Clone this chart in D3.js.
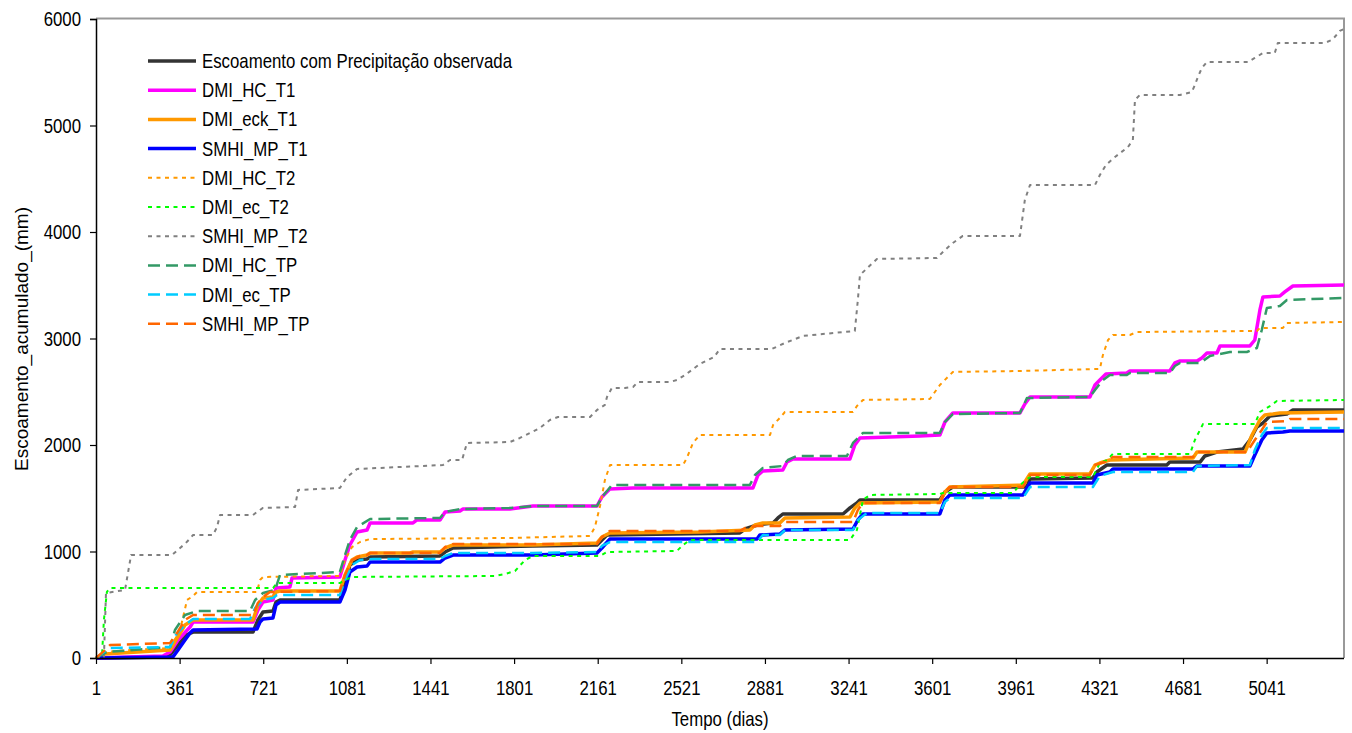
<!DOCTYPE html>
<html>
<head>
<meta charset="utf-8">
<title>Escoamento acumulado</title>
<script src="https://cdn.jsdelivr.net/npm/d3@7"></script>
<style>
body { margin:0; background:#fff; }
text { font-family:"Liberation Sans",Arial,sans-serif; font-size:20.5px; fill:#000; }
</style>
</head>
<body>
<svg id="chart" width="1352" height="733"></svg>
<script>
// series names (legend order = drawing order)
var names = ['Escoamento com Precipitação observada','DMI_HC_T1','DMI_eck_T1','SMHI_MP_T1',
  'DMI_HC_T2','DMI_ec_T2','SMHI_MP_T2','DMI_HC_TP','DMI_ec_TP','SMHI_MP_TP'];

// [dia, mm acumulado]
var obs = [[1,0],[298,9],[320,28],[354,122],[388,216],[419,244],[677,244],[698,357],[720,432],[763,441],[776,526],[793,545],[1051,545],[1073,685],[1094,873],[1125,920],[1168,930],[1181,948],[1482,958],[1504,995],[1538,1033],[1882,1052],[2158,1061],[2179,1108],[2201,1155],[2773,1174],[2795,1211],[2847,1249],[2916,1268],[2937,1315],[2958,1352],[3217,1352],[3247,1409],[3277,1455],[3290,1484],[3634,1484],[3656,1559],[3690,1606],[4009,1606],[4022,1681],[4293,1690],[4310,1747],[4353,1812],[4611,1812],[4624,1840],[4754,1840],[4775,1897],[4827,1934],[4939,1962],[4969,2047],[4999,2169],[5025,2207],[5055,2272],[5128,2291],[5154,2329],[5374,2329]];
var dmiHcT1 = [[1,0],[289,19],[320,56],[354,169],[406,291],[419,338],[677,338],[698,451],[720,526],[763,545],[776,657],[836,667],[845,751],[1051,761],[1073,920],[1094,1061],[1125,1183],[1168,1202],[1181,1268],[1366,1268],[1383,1296],[1482,1296],[1504,1371],[1568,1380],[1581,1399],[1783,1399],[1882,1427],[2158,1427],[2179,1512],[2213,1587],[2313,1596],[2829,1596],[2851,1718],[2872,1756],[2958,1765],[2976,1840],[3002,1869],[3247,1869],[3268,2000],[3290,2066],[3548,2085],[3634,2094],[3656,2216],[3690,2301],[3979,2301],[4000,2385],[4022,2451],[4280,2451],[4302,2563],[4323,2610],[4349,2667],[4439,2676],[4452,2695],[4624,2695],[4646,2770],[4668,2789],[4741,2789],[4762,2817],[4784,2864],[4827,2864],[4840,2930],[4969,2930],[4990,2986],[5012,3268],[5025,3390],[5098,3399],[5119,3437],[5154,3493],[5374,3502]];
var dmiEckT1 = [[1,0],[40,38],[320,75],[345,169],[384,310],[419,357],[677,357],[698,498],[720,563],[763,573],[776,620],[793,629],[1051,629],[1073,779],[1103,920],[1125,948],[1168,967],[1181,986],[1353,986],[1366,995],[1482,995],[1504,1033],[1538,1061],[1882,1061],[2158,1080],[2179,1136],[2213,1174],[2601,1183],[2816,1202],[2838,1249],[2872,1268],[2945,1268],[2967,1315],[3247,1324],[3268,1409],[3290,1455],[3634,1465],[3656,1559],[3677,1606],[3992,1624],[4022,1728],[4280,1728],[4302,1812],[4323,1831],[4366,1859],[4724,1878],[4741,1934],[4948,1934],[4978,2094],[5012,2235],[5033,2282],[5068,2291],[5098,2301],[5374,2310]];
var smhiMpT1 = [[1,0],[332,9],[354,75],[384,169],[406,235],[419,263],[694,272],[707,338],[720,366],[763,376],[776,498],[793,526],[1051,526],[1073,639],[1094,808],[1125,855],[1168,864],[1181,901],[1482,901],[1504,939],[1538,967],[1882,967],[2158,986],[2179,1033],[2213,1117],[2847,1117],[2859,1155],[2945,1164],[2967,1202],[3260,1211],[3281,1296],[3303,1352],[3634,1352],[3656,1484],[3677,1531],[3992,1531],[4022,1643],[4293,1643],[4310,1718],[4366,1747],[4379,1775],[4724,1775],[4741,1803],[4969,1803],[4990,1906],[5020,2047],[5042,2113],[5111,2122],[5141,2132],[5374,2132]];
var dmiHcT2 = [[1,0],[40,56],[147,75],[320,94],[363,263],[393,545],[419,582],[436,620],[694,620],[707,732],[720,761],[1051,770],[1073,920],[1103,1042],[1138,1089],[1181,1117],[1783,1127],[2128,1146],[2149,1230],[2171,1427],[2192,1671],[2214,1812],[2528,1812],[2545,1878],[2571,2019],[2601,2094],[2903,2094],[2916,2188],[2945,2254],[2967,2310],[3260,2310],[3277,2366],[3303,2423],[3591,2432],[3634,2563],[3690,2686],[3979,2695],[4323,2714],[4336,2845],[4358,2986],[4379,3033],[4452,3033],[4482,3061],[4999,3071],[5012,3099],[5111,3099],[5128,3146],[5374,3155]];
var dmiEcT2 = [[1,0],[27,28],[35,357],[48,620],[61,657],[763,657],[780,704],[1051,704],[1073,732],[1103,761],[1719,770],[1762,789],[1805,817],[1848,920],[1882,958],[2171,958],[2201,995],[2502,1005],[2528,1061],[2558,1108],[3247,1108],[3277,1202],[3303,1484],[3333,1531],[3634,1540],[3647,1549],[3948,1549],[3979,1624],[4022,1700],[4293,1700],[4323,1831],[4353,1859],[4379,1916],[4711,1916],[4732,2047],[4767,2197],[4990,2197],[5012,2310],[5055,2366],[5085,2413],[5374,2423]];
var smhiMpT2 = [[1,0],[35,0],[44,610],[126,639],[152,967],[328,967],[363,1033],[388,1080],[419,1155],[505,1155],[522,1230],[535,1343],[677,1343],[694,1371],[720,1409],[858,1418],[871,1578],[1051,1596],[1082,1700],[1125,1775],[1495,1812],[1525,1859],[1577,1859],[1598,2019],[1783,2028],[1826,2066],[1878,2122],[1912,2160],[1955,2235],[1990,2263],[2128,2263],[2158,2329],[2192,2376],[2201,2451],[2222,2535],[2278,2535],[2313,2545],[2334,2592],[2472,2592],[2502,2610],[2537,2657],[2601,2761],[2662,2826],[2687,2902],[2911,2902],[2967,2958],[3045,3024],[3268,3071],[3281,3362],[3290,3596],[3363,3747],[3621,3756],[3656,3831],[3690,3897],[3733,3963],[3979,3963],[4000,4301],[4022,4441],[4302,4441],[4323,4535],[4349,4629],[4388,4704],[4444,4798],[4465,4864],[4474,5240],[4495,5287],[4668,5287],[4719,5315],[4732,5380],[4745,5456],[4762,5540],[4784,5596],[4960,5596],[4990,5634],[5025,5681],[5076,5681],[5089,5775],[5291,5775],[5321,5803],[5334,5831],[5356,5888],[5374,5906]];
var dmiHcTP = [[1,0],[48,56],[320,103],[341,263],[384,404],[436,441],[664,441],[686,545],[720,610],[772,639],[793,779],[1051,808],[1073,967],[1094,1108],[1125,1230],[1181,1305],[1482,1315],[1504,1371],[1568,1399],[1783,1409],[1882,1427],[2158,1427],[2179,1512],[2205,1578],[2222,1624],[2816,1624],[2838,1718],[2872,1784],[2958,1803],[2980,1859],[3019,1897],[3234,1897],[3260,2019],[3303,2113],[3634,2113],[3656,2216],[3690,2291],[3979,2301],[4009,2441],[4280,2451],[4302,2517],[4336,2610],[4366,2657],[4439,2657],[4452,2676],[4624,2676],[4646,2742],[4668,2770],[4754,2770],[4797,2836],[4883,2873],[4956,2873],[4999,2911],[5020,3080],[5042,3287],[5098,3305],[5128,3362],[5374,3380]];
var dmiEcTP = [[1,0],[35,56],[61,94],[320,103],[345,216],[384,310],[419,366],[664,366],[686,470],[720,545],[763,563],[780,592],[1051,592],[1073,732],[1103,873],[1138,920],[1194,930],[1482,930],[1504,958],[1538,986],[1882,986],[2158,995],[2179,1052],[2213,1089],[2847,1089],[2872,1155],[2945,1155],[2967,1202],[3260,1202],[3281,1296],[3320,1362],[3634,1362],[3656,1465],[3677,1502],[3992,1502],[4022,1606],[4293,1606],[4323,1709],[4379,1747],[4724,1747],[4741,1803],[4969,1812],[4990,1953],[5020,2094],[5042,2160],[5374,2160]];
var smhiMpTP = [[1,0],[40,75],[61,122],[320,141],[345,216],[384,357],[419,404],[677,404],[698,516],[720,573],[750,620],[1051,629],[1073,779],[1103,920],[1138,958],[1168,967],[1181,986],[1482,986],[1504,1042],[1538,1070],[2158,1070],[2179,1136],[2213,1193],[2773,1193],[2795,1221],[2847,1240],[2945,1240],[2967,1277],[3260,1277],[3281,1390],[3303,1455],[3634,1455],[3656,1559],[3677,1606],[3992,1606],[4022,1718],[4280,1718],[4302,1812],[4345,1840],[4379,1887],[4724,1887],[4741,1934],[4956,1934],[4990,2047],[5020,2141],[5042,2216],[5128,2225],[5141,2244],[5374,2244]];

var xTicks = [1,361,721,1081,1441,1801,2161,2521,2881,3241,3601,3961,4321,4681,5041];
var yTicks = [0,1000,2000,3000,4000,5000,6000];

var series = [obs,dmiHcT1,dmiEckT1,smhiMpT1,dmiHcT2,dmiEcT2,smhiMpT2,dmiHcTP,dmiEcTP,smhiMpTP];
var colors = ['#333333','#ff00ff','#ff9900','#0000ff','#ff9900','#00ff00','#808080','#339966','#00ccff','#ff6600'];
var widths = [3.5,3.5,3.5,3.5,2,2,2,2.5,2.5,2.5];
var dashes = [null,null,null,null,'4,4.5','4,4.5','4,4.5','12,6','12,6','12,6'];

// no narrow font installed: squeeze the regular one
var narrow = 'scale(0.82,1)';

var svg = d3.select('#chart');
var x = d3.scaleLinear().domain([1,5374]).range([96,1344]);
var y = d3.scaleLinear().domain([0,6000]).range([658,19]);

// plot frame (grey top/right)
svg.append('path').attr('d','M96,18.5H1344V658')
  .attr('fill','none').attr('stroke','#999').attr('stroke-width',2);

var line = d3.line().x(function(d){return x(d[0]);}).y(function(d){return y(d[1]);});

series.forEach(function(s,i){
  svg.append('path').datum(s).attr('d',line)
    .attr('fill','none').attr('stroke',colors[i]).attr('stroke-width',widths[i])
    .attr('stroke-linejoin','round')
    .attr('stroke-dasharray',dashes[i]);
});

var xAxis = svg.append('g').attr('transform','translate(0,658)')
  .call(d3.axisBottom(x).tickValues(xTicks).tickSize(6).tickPadding(16).tickFormat(d3.format('d')));
var yAxis = svg.append('g').attr('transform','translate(96,0)')
  .call(d3.axisLeft(y).tickValues(yTicks).tickSize(6).tickPadding(12.3).tickFormat(d3.format('d')));
[xAxis,yAxis].forEach(function(a){
  a.select('.domain').attr('stroke','#000').attr('stroke-width',1.5);
  a.selectAll('.tick line').attr('stroke','#000').attr('stroke-width',1.2);
  a.selectAll('text').attr('font-family',null).attr('font-size',null).attr('fill','#000')
    .attr('transform',narrow);
});
xAxis.select('.domain').attr('d','M96,0.5H1344');

svg.append('text').attr('transform','translate(720,726) '+narrow).attr('text-anchor','middle').text('Tempo (dias)');
svg.append('text').attr('transform','translate(28,339) rotate(-90)').attr('text-anchor','middle')
  .style('font-size','19px')
  .text('Escoamento_acumulado_(mm)');

// legend
var lg = svg.append('g');
names.forEach(function(n,i){
  var cy = 61 + i*29.2;
  lg.append('line').attr('x1',148).attr('x2',196).attr('y1',cy).attr('y2',cy)
    .attr('stroke',colors[i]).attr('stroke-width',widths[i]).attr('stroke-dasharray',dashes[i]);
  lg.append('text').attr('transform','translate(202,'+(cy+7)+') '+narrow).text(n);
});
</script>
</body>
</html>
